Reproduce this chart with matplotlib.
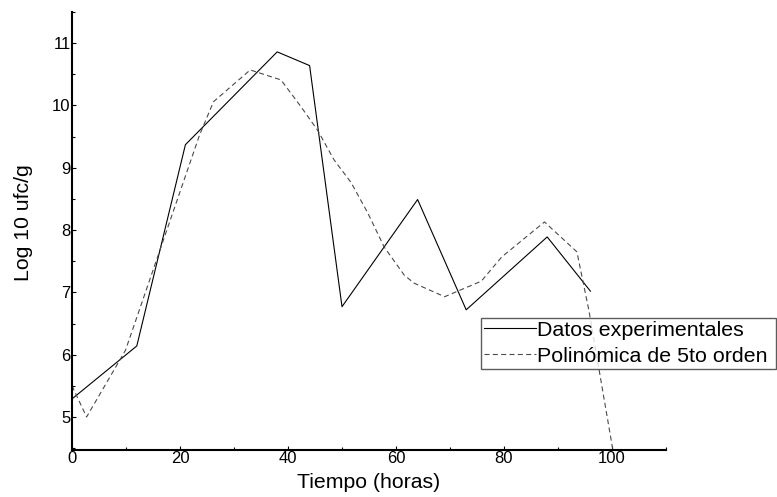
import matplotlib
matplotlib.use("Agg")
import matplotlib.pyplot as plt
from matplotlib.ticker import MultipleLocator

plt.rcParams['font.family'] = ['Liberation Sans', 'DejaVu Sans']

# Experimental data
tiempo_exp = [0, 12, 21, 38, 44, 50, 64, 73, 88, 96]
log_exp = [5.29, 6.14, 9.37, 10.86, 10.64, 6.77, 8.49, 6.72, 7.89, 7.02]

# 5th order polynomial fit (as drawn)
tiempo_fit = [0, 2.7, 9.9, 23.6, 26.2, 33.0, 38.7, 42.4, 45.5, 48.5, 51.7, 54.8,
              57.8, 61.5, 63.3, 69.0, 75.8, 79.6, 87.5, 93.5, 95.7, 100.3]
log_fit = [5.50, 5.00, 6.07, 9.52, 10.06, 10.57, 10.41, 9.98, 9.60, 9.13, 8.76, 8.27,
           7.73, 7.28, 7.15, 6.93, 7.18, 7.57, 8.13, 7.65, 6.72, 4.40]

labels = ['Datos experimentales', 'Polinómica de 5to orden']
xticks = [0, 20, 40, 60, 80, 100]
yticks = [5, 6, 7, 8, 9, 10, 11]

fig = plt.figure(figsize=(7.77, 4.97), dpi=100)
ax = fig.add_axes([72/777, 1-450/497, (666-72)/777, (450-12)/497])

ax.plot(tiempo_exp, log_exp, color='black', lw=0.8, label=labels[0])
ax.plot(tiempo_fit, log_fit, color='#4a4a4a', lw=0.8, dashes=(4.5, 3.0), label=labels[1])

ax.set_xlim(0, 110)
ax.set_ylim(4.47, 11.5)
ax.set_xticks(xticks)
ax.set_yticks(yticks)
ax.xaxis.set_minor_locator(MultipleLocator(10))
ax.yaxis.set_minor_locator(MultipleLocator(0.5))
ax.tick_params(which='both', direction='in', width=0.8, labelsize=12)
ax.tick_params(axis='x', which='both', pad=1)
ax.tick_params(axis='y', which='both', pad=1)
ax.tick_params(which='major', length=3)
ax.tick_params(which='minor', length=2.5)

for s in ['top', 'right']:
    ax.spines[s].set_visible(False)
for s in ['left', 'bottom']:
    ax.spines[s].set_linewidth(1.5)

ax.set_xlabel('Tiempo (horas)', fontsize=15.3, labelpad=5)
ax.set_ylabel('Log 10 ufc/g', fontsize=15.3)
ax.yaxis.set_label_coords(-0.066, 0.52)

leg = fig.legend(loc='lower left', bbox_to_anchor=(481/777, 1-369/497, (776-481)/777, 52/497),
                 mode='expand', fontsize=15.4, frameon=True, fancybox=False,
                 borderpad=0.15, labelspacing=0.33, handlelength=2.4, handletextpad=0.05,
                 borderaxespad=0)
leg.get_frame().set_edgecolor('#333333')
leg.get_frame().set_linewidth(1.0)

fig.savefig('out.png', dpi=100)
